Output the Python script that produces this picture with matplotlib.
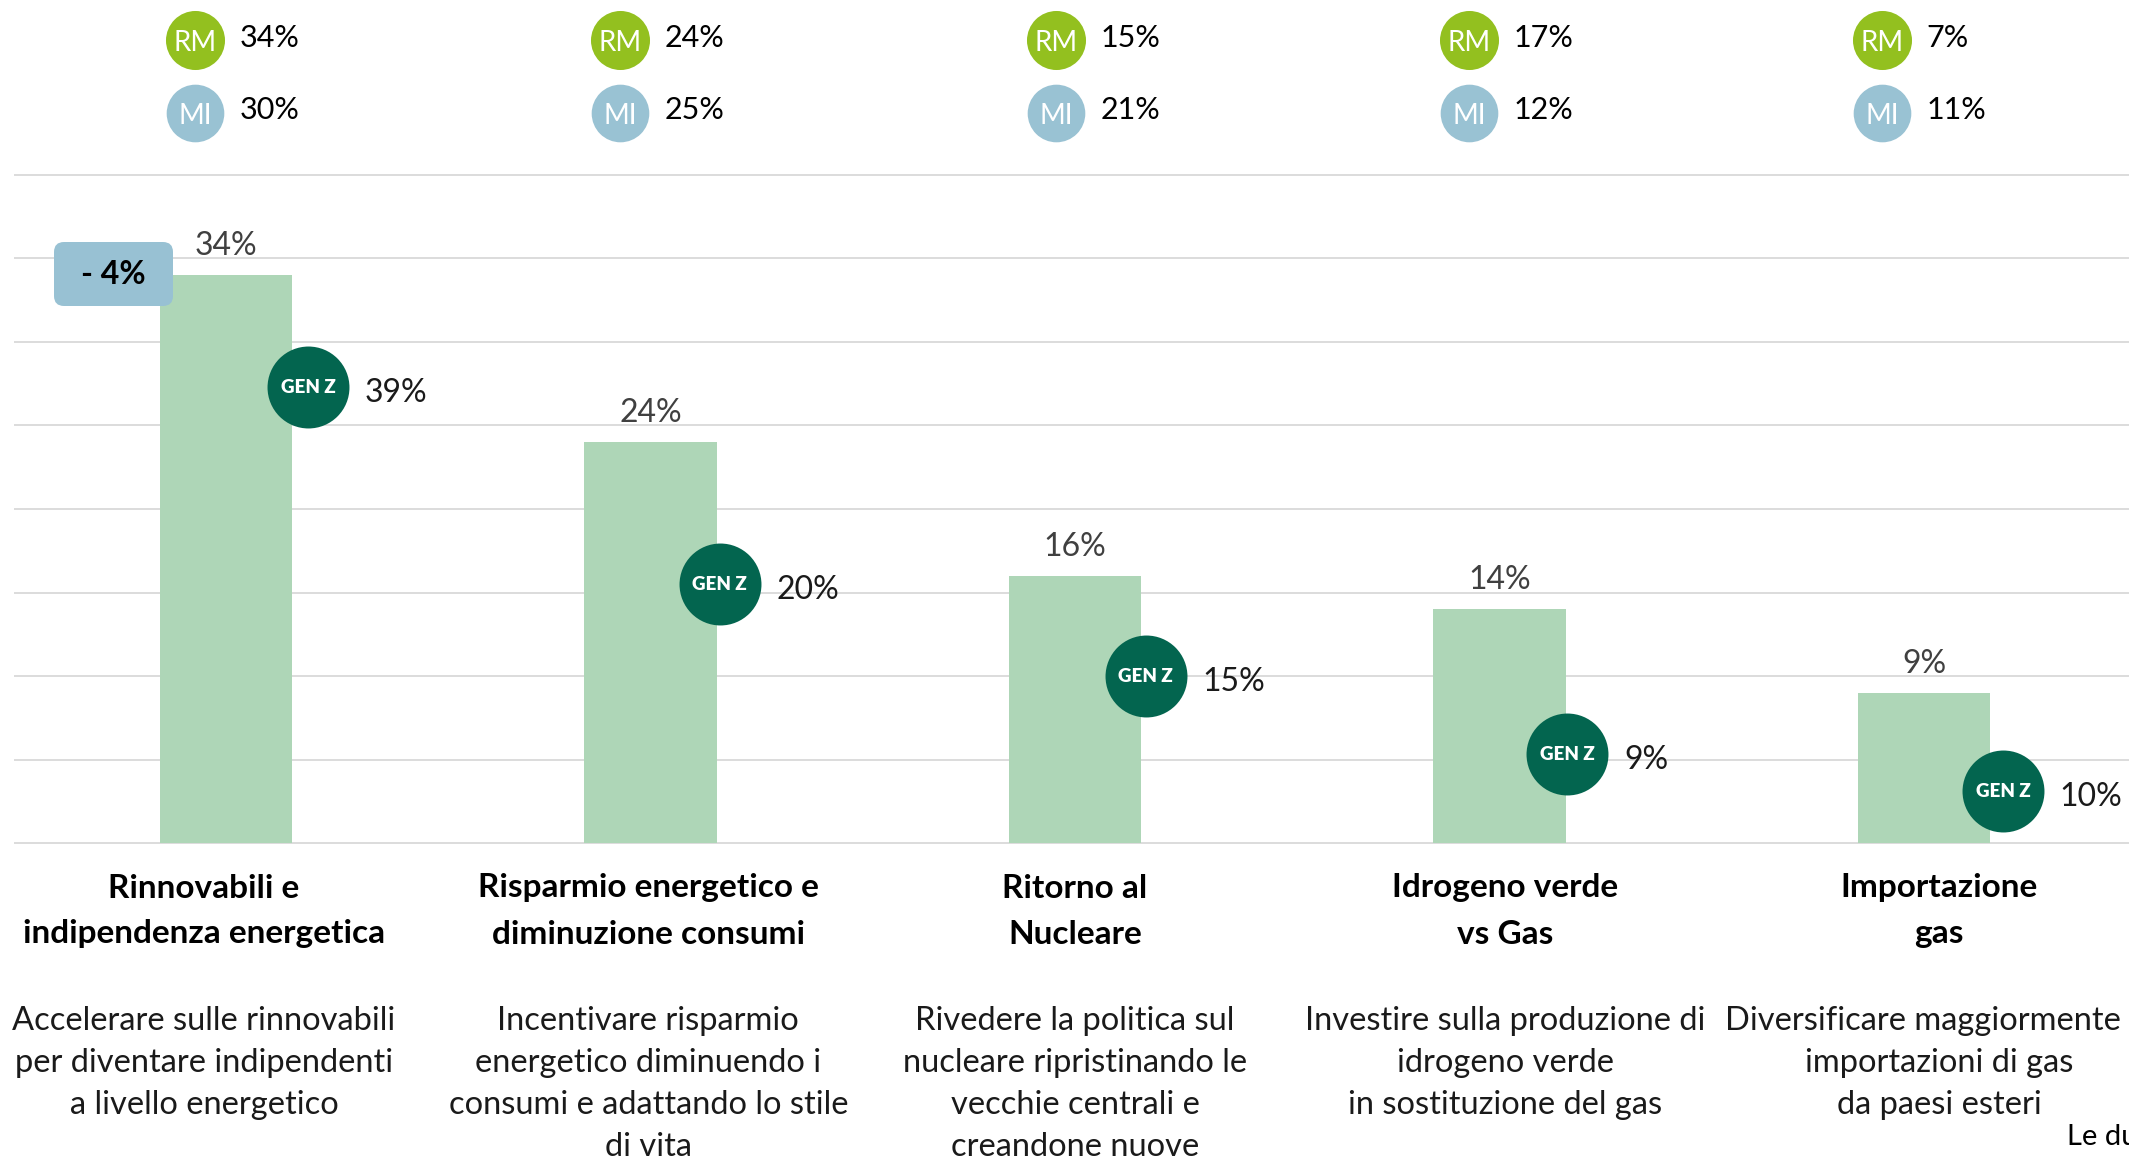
import numpy as np
import matplotlib.pyplot as plt
from matplotlib.patches import FancyBboxPatch
from matplotlib.transforms import blended_transform_factory

plt.rcParams['font.family'] = ['Lato', 'DejaVu Sans']

# dati
titoli = ["Rinnovabili e\nindipendenza energetica",
          "Risparmio energetico e\ndiminuzione consumi",
          "Ritorno al\nNucleare",
          "Idrogeno verde\nvs Gas",
          "Importazione\ngas"]
descrizioni = ["Accelerare sulle rinnovabili\nper diventare indipendenti\na livello energetico",
               "Incentivare risparmio\nenergetico diminuendo i\nconsumi e adattando lo stile\ndi vita",
               "Rivedere la politica sul\nnucleare ripristinando le\nvecchie centrali e\ncreandone nuove",
               "Investire sulla produzione di\nidrogeno verde\nin sostituzione del gas",
               "Diversificare maggiormente le\nimportazioni di gas\nda paesi esteri"]
totale = [34, 24, 16, 14, 9]
gen_z = [39, 20, 15, 9, 10]
roma = [34, 24, 15, 17, 7]
milano = [30, 25, 21, 12, 11]
delta = "- 4%"
nota = "Le due"

# posizione dei badge (solo layout)
genz_y = [27.3, 15.5, 10.0, 5.3, 3.1]
genz_dx = [0.193, 0.163, 0.167, 0.16, 0.186]
head_dx = [-0.073, -0.071, -0.045, -0.071, -0.099]
text_dx = [-0.052, -0.005, 0.0, 0.014, 0.036]

W, H = 2129, 1159
fig = plt.figure(figsize=(W / 100, H / 100), dpi=100)


def fy(py):
    return 1 - py / H


ax = fig.add_axes([14 / W, fy(851.35), (W - 14) / W, (851.35 - 166.65) / H])
x = np.arange(len(totale))
ax.set_xlim(-0.4994, 4.483)
ax.set_ylim(-0.5, 40.5)
ax.set_yticks(np.arange(0, 41, 5))
ax.grid(axis='y', color='#d9d9d9', lw=1.3)
ax.set_axisbelow(True)
ax.tick_params(left=False, bottom=False, labelleft=False, labelbottom=False)
for s in ax.spines.values():
    s.set_visible(False)

ax.bar(x, totale, width=0.313, color='#aed6b7', zorder=2)
for xi, v in zip(x, totale):
    ax.annotate(f'{v}%', (xi, v), xytext=(0, 21), textcoords='offset points',
                ha='center', va='center', fontsize=23, color='#404040')

# badge GEN Z
gx = x + np.array(genz_dx)
ax.plot(gx, genz_y, 'o', ms=59, mfc='#03654f', mec='none', zorder=4, clip_on=False)
for xi, yi, v in zip(gx, genz_y, gen_z):
    ax.text(xi, yi, 'GEN Z', ha='center', va='center', fontsize=13.5, fontweight='heavy',
            color='white', zorder=5)
    ax.annotate(f'{v}%', (xi, yi), xytext=(41, -4), textcoords='offset points',
                ha='left', va='center', fontsize=23, color='#1a1a1a')

# intestazione RM / MI
tr = blended_transform_factory(ax.transData, fig.transFigure)
hx = x + np.array(head_dx)
ax.plot(hx, [fy(40)] * 5, 'o', ms=42.5, mfc='#93c01f', mec='none', transform=tr, clip_on=False)
ax.plot(hx, [fy(113)] * 5, 'o', ms=41.5, mfc='#99c2d3', mec='none', transform=tr, clip_on=False)
for xi, r, m in zip(hx, roma, milano):
    ax.text(xi, fy(43), 'RM', transform=tr, ha='center', va='center', fontsize=20, color='white')
    ax.text(xi, fy(116), 'MI', transform=tr, ha='center', va='center', fontsize=20, color='white')
    ax.annotate(f'{r}%', (xi, fy(38)), xycoords=tr, xytext=(32, 0), textcoords='offset points',
                ha='left', va='center', fontsize=22, color='black')
    ax.annotate(f'{m}%', (xi, fy(110)), xycoords=tr, xytext=(32, 0), textcoords='offset points',
                ha='left', va='center', fontsize=22, color='black')

# etichette categorie
for xi, dx, t, d in zip(x, text_dx, titoli, descrizioni):
    for j, riga in enumerate(t.split('\n')):
        ax.text(xi + dx, fy(888 + 46 * j), riga, transform=tr, ha='center', va='center',
                fontsize=24, fontweight='bold', color='black')
    for j, riga in enumerate(d.split('\n')):
        ax.text(xi + dx, fy(1021 + 42 * j), riga, transform=tr, ha='center', va='center',
                fontsize=23.5, color='#1a1a1a')

# riquadro differenza
box = FancyBboxPatch((0.54, (H - 306) / 100), 1.19, 0.64,
                     boxstyle='round,pad=0,rounding_size=0.1', fc='#98c1d3', ec='none',
                     transform=fig.dpi_scale_trans, zorder=6)
fig.patches.append(box)
fig.text(113 / W, fy(274), delta, ha='center', va='center', fontsize=23,
         fontweight='bold', color='black', zorder=7)

fig.text(2067 / W, fy(1137), nota, ha='left', va='center', fontsize=21, color='black')

fig.savefig('out.png', dpi=100)
